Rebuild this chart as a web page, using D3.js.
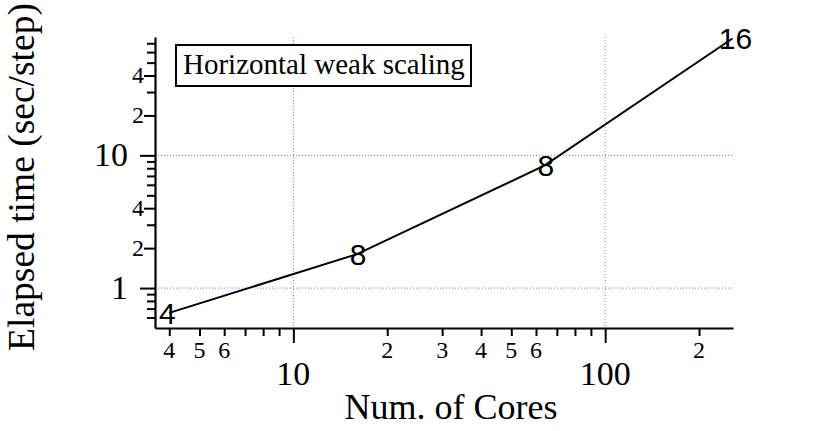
<!DOCTYPE html>
<html>
<head>
<meta charset="utf-8">
<script src="https://cdn.jsdelivr.net/npm/d3@7"></script>
<style>
  body { margin: 0; background: #fff; }
  text { font-family: "Liberation Serif", "Times New Roman", serif; fill: #000; }
  .ptlabel { font-family: "Liberation Sans", Arial, sans-serif; }
</style>
</head>
<body>
<svg id="chart" width="820" height="431"></svg>
<script>
// data
const cores = [4, 16, 64, 256];
const elapsed = [0.65, 1.8, 8.4, 76];
const pointLabels = ['4', '8', '8', '16'];

// ticks
const xMajor = [10, 100];
const xMinor = [4, 5, 6, 7, 8, 9, 20, 30, 40, 50, 60, 70, 80, 90, 200];
const xMinorLabeled = [4, 5, 6, 20, 30, 40, 50, 60, 200];
const yMajor = [1, 10];
const yMinor = [0.6, 0.7, 0.8, 0.9, 2, 3, 4, 5, 6, 7, 8, 9, 20, 30, 40, 50, 60, 70];
const yMinorLabeled = [2, 4, 20, 40];
const legendText = 'Horizontal weak scaling';

const svg = d3.select('#chart');
const plotL = 155, plotR = 733, plotT = 37, plotB = 328;

const x = d3.scaleLog().domain([3.6, 257]).range([plotL, plotR]);
const y = d3.scaleLog().domain([0.5, 78]).range([plotB, plotT]);

const firstDigit = v => String(v).replace(/^0\./, '')[0];

// grid (dotted blue at decades)
svg.append('g').selectAll('line').data(xMajor).enter().append('line')
  .attr('x1', d => x(d)).attr('x2', d => x(d))
  .attr('y1', plotT).attr('y2', plotB)
  .attr('stroke', '#7575f5').attr('stroke-width', 1).attr('stroke-dasharray', '1,2');
svg.append('g').selectAll('line').data(yMajor).enter().append('line')
  .attr('x1', plotL).attr('x2', plotR)
  .attr('y1', d => y(d)).attr('y2', d => y(d))
  .attr('stroke', '#7575f5').attr('stroke-width', 1).attr('stroke-dasharray', '1,2');

// x axis
const xAxis = svg.append('g')
  .attr('transform', `translate(0,${plotB})`)
  .call(d3.axisBottom(x).tickValues(xMajor.concat(xMinor)).tickFormat('').tickSizeOuter(0));
xAxis.select('.domain').attr('stroke-width', 2.2);
xAxis.selectAll('.tick line')
  .attr('stroke-width', 2)
  .attr('y2', d => xMajor.includes(d) ? 15 : 8);

svg.append('g').selectAll('text').data(xMinorLabeled).enter().append('text')
  .attr('x', d => x(d)).attr('y', 358)
  .attr('text-anchor', 'middle').attr('font-size', 24)
  .text(d => firstDigit(d));
svg.append('g').selectAll('text').data(xMajor).enter().append('text')
  .attr('x', d => x(d)).attr('y', 385)
  .attr('text-anchor', 'middle').attr('font-size', 34)
  .text(d => d);

// y axis
const yAxis = svg.append('g')
  .attr('transform', `translate(${plotL},0)`)
  .call(d3.axisLeft(y).tickValues(yMajor.concat(yMinor)).tickFormat('').tickSizeOuter(0));
yAxis.select('.domain').attr('stroke-width', 2.2);
yAxis.selectAll('.tick line')
  .attr('stroke-width', 2)
  .attr('x2', d => yMajor.includes(d) ? -15 : (yMinorLabeled.includes(d) ? -11 : -8));

svg.append('g').selectAll('text').data(yMinorLabeled).enter().append('text')
  .attr('x', 144).attr('y', d => y(d) + 8)
  .attr('text-anchor', 'end').attr('font-size', 24)
  .text(d => firstDigit(d));
svg.append('g').selectAll('text').data(yMajor).enter().append('text')
  .attr('x', 128).attr('y', d => y(d) + 11)
  .attr('text-anchor', 'end').attr('font-size', 34)
  .text(d => d);

// axis titles
svg.append('text')
  .attr('x', 451).attr('y', 419)
  .attr('text-anchor', 'middle').attr('font-size', 36)
  .text('Num. of Cores');
svg.append('text')
  .attr('transform', 'translate(34,177) rotate(-90)')
  .attr('text-anchor', 'middle').attr('font-size', 37.5)
  .text('Elapsed time (sec/step)');

// line
const line = d3.line().x(d => x(d[0])).y(d => y(d[1]));
svg.append('path')
  .datum(cores.map((c, i) => [c, elapsed[i]]))
  .attr('d', line)
  .attr('fill', 'none').attr('stroke', '#000').attr('stroke-width', 2);

// point labels
svg.append('g').selectAll('text').data(cores).enter().append('text')
  .attr('class', 'ptlabel')
  .attr('x', (d, i) => x(d) + (i === 0 ? -2 : i === 3 ? 3 : 1))
  .attr('y', (d, i) => y(elapsed[i]) + 11)
  .attr('text-anchor', 'middle').attr('font-size', 30)
  .text((d, i) => pointLabels[i]);

// legend box
const lg = svg.append('g');
lg.append('rect')
  .attr('x', 176).attr('y', 45).attr('width', 295).attr('height', 41)
  .attr('fill', '#fff').attr('stroke', '#000').attr('stroke-width', 2);
lg.append('text')
  .attr('x', 183).attr('y', 74).attr('font-size', 29)
  .text(legendText);
</script>
</body>
</html>
